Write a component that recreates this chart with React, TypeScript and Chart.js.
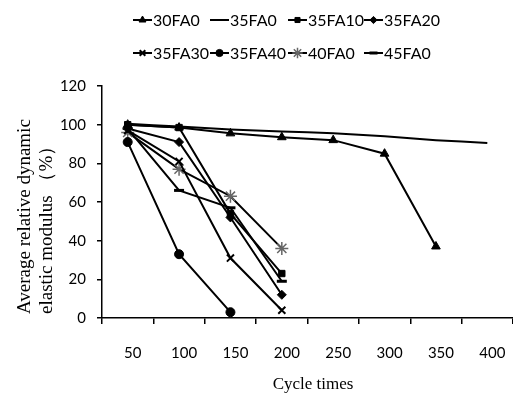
import React, { useEffect, useRef } from 'react';
import { Chart, registerables } from 'chart.js';
import { drawPoint } from 'chart.js/helpers';

Chart.register(...registerables);

const categories = ['50', '100', '150', '200', '250', '300', '350', '400'];
const seriesNames = ['30FA0', '35FA0', '35FA10', '35FA20', '35FA30', '35FA40', '40FA0', '45FA0'];

const s30FA0 = [100, 98.5, 95.5, 93.5, 92, 85, 37, null];
const s35FA0 = [100.5, 99, 97.5, 96.5, 95.5, 94, 92, 90.5];
const s35FA10 = [100, 98.5, 54, 23, null, null, null, null];
const s35FA20 = [98, 91, 52, 12, null, null, null, null];
const s35FA30 = [97, 81, 31, 4, null, null, null, null];
const s35FA40 = [91, 33, 3, null, null, null, null, null];
const s40FA0 = [96, 77, 63, 36, null, null, null, null];
const s45FA0 = [98, 66, 57, 19, null, null, null, null];

const seriesValues = [s30FA0, s35FA0, s35FA10, s35FA20, s35FA30, s35FA40, s40FA0, s45FA0];

const yMin = 0;
const yMax = 120;
const yStep = 20;

const yTitleLines = ['Average relative dynamic', 'elastic modulus （%）'];
const xTitle = 'Cycle times';

type MarkerStyle = { style: any; radius: number; fill: string; stroke: string; width: number };
const markers: MarkerStyle[] = [
  { style: 'triangle', radius: 5, fill: '#000', stroke: '#000', width: 1 },
  { style: false, radius: 0, fill: '#000', stroke: '#000', width: 0 },
  { style: 'rect', radius: 4.5, fill: '#000', stroke: '#000', width: 1 },
  { style: 'rectRot', radius: 4.5, fill: '#000', stroke: '#000', width: 1 },
  { style: 'crossRot', radius: 5, fill: '#000', stroke: '#000', width: 2 },
  { style: 'circle', radius: 4.5, fill: '#000', stroke: '#000', width: 1 },
  { style: 'star', radius: 6.5, fill: '#666', stroke: '#666', width: 1.5 },
  { style: 'line', radius: 5, fill: '#000', stroke: '#000', width: 3 },
];

const legendCols = [133, 210, 288, 364];
const legendRows = [20, 53];

const customPlugin = {
  id: 'customDecor',
  afterDraw(chart: any) {
    const ctx = chart.ctx as CanvasRenderingContext2D;
    ctx.save();
    seriesNames.forEach((name, i) => {
      const x0 = legendCols[i % 4];
      const y = legendRows[Math.floor(i / 4)];
      ctx.strokeStyle = '#000';
      ctx.lineWidth = 2;
      ctx.beginPath();
      ctx.moveTo(x0, y);
      ctx.lineTo(x0 + 19, y);
      ctx.stroke();
      const m = markers[i];
      if (m.style && m.radius > 0) {
        ctx.fillStyle = m.fill;
        ctx.strokeStyle = m.stroke;
        ctx.lineWidth = m.width;
        drawPoint(ctx, { pointStyle: m.style, radius: m.radius * 0.8, rotation: 0, borderWidth: m.width } as any, x0 + 9.5, y);
      }
      ctx.fillStyle = '#000';
      ctx.font = '16px Lato';
      ctx.textAlign = 'left';
      ctx.textBaseline = 'middle';
      ctx.fillText(name, x0 + 20, y + 1);
    });
    ctx.font = '19px "Liberation Serif"';
    ctx.fillStyle = '#000';
    ctx.textAlign = 'left';
    ctx.textBaseline = 'middle';
    const yCenters = [25, 47];
    yTitleLines.forEach((line, i) => {
      ctx.save();
      ctx.translate(yCenters[i], 314);
      ctx.rotate(-Math.PI / 2);
      ctx.fillText(line, 0, 0);
      ctx.restore();
    });
    ctx.font = '17px "Liberation Serif"';
    ctx.textAlign = 'center';
    ctx.fillText(xTitle, 313, 385);
    ctx.restore();
  },
};

export default function App() {
  const ref = useRef<HTMLCanvasElement>(null);
  useEffect(() => {
    document.body.style.margin = '0';
    const datasets = seriesNames.map((name, i) => {
      const m = markers[i];
      return {
        label: name,
        data: seriesValues[i],
        borderColor: '#000',
        borderWidth: 2,
        backgroundColor: '#000',
        pointStyle: m.style,
        pointRadius: m.radius,
        pointBackgroundColor: m.fill,
        pointBorderColor: m.stroke,
        pointBorderWidth: m.width,
        tension: i === 1 ? 0.2 : 0,
        fill: false,
        spanGaps: false,
      };
    });
    const chart = new Chart(ref.current!, {
      type: 'line',
      data: { labels: categories, datasets: datasets as any },
      options: {
        animation: false,
        responsive: false,
        layout: { autoPadding: false, padding: { top: 86, left: 0, right: -9, bottom: 0 } },
        plugins: { legend: { display: false }, tooltip: { enabled: false } },
        scales: {
          x: {
            type: 'category',
            offset: true,
            grid: { display: true, drawOnChartArea: false, drawTicks: true, tickLength: 6, color: '#000', lineWidth: 1.5, offset: true },
            border: { display: true, color: '#000', width: 1.5 },
            ticks: { color: '#000', font: { family: 'Lato', size: 15 }, padding: 20, labelOffset: 5, maxRotation: 0, autoSkip: false },
            afterFit: (s: any) => { s.height = 76; s.paddingLeft = 0; s.paddingRight = 0; },
          },
          y: {
            min: yMin,
            max: yMax,
            grid: { display: true, drawOnChartArea: false, drawTicks: true, tickLength: 5, color: '#000', lineWidth: 1.5 },
            border: { display: true, color: '#000', width: 1.5 },
            ticks: { stepSize: yStep, color: '#000', font: { family: 'Lato', size: 15 }, padding: 11 },
            afterFit: (s: any) => { s.width = 102; s.paddingTop = 0; s.paddingBottom = 0; },
          },
        },
      },
      plugins: [customPlugin],
    });
    return () => chart.destroy();
  }, []);
  return (
    <div style={{ width: 513, height: 394 }}>
      <canvas ref={ref} width={513} height={394} style={{ display: 'block' }} />
    </div>
  );
}
